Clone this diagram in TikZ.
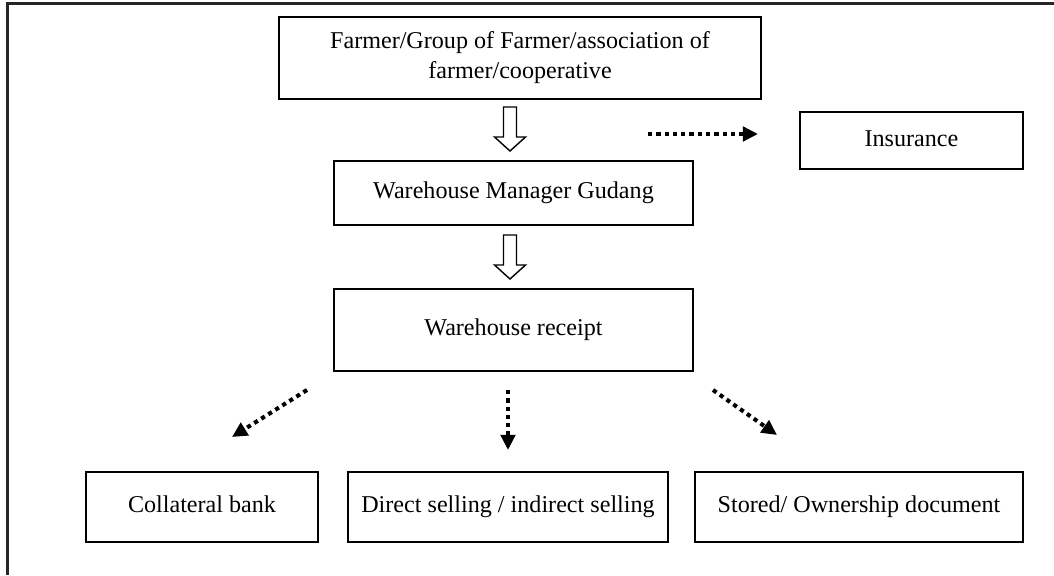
\documentclass[tikz,border=0pt]{standalone}
\usepackage{fontspec}
\setmainfont{Liberation Serif}
\usetikzlibrary{arrows.meta,calc}
\tikzset{box/.style={draw,line width=1.4pt,align=center,inner sep=2pt}}
\tikzset{onebox/.style={box,text height=12pt,text depth=4pt}}
\tikzset{frameline/.style={line width=1.6pt,black!85}}
\tikzset{dotarc/.style={line width=2.9pt,dash pattern=on 3pt off 2.9pt,-{Triangle[length=0.38cm,width=0.36cm]}}}
\tikzset{hollow/.style={draw,line width=1pt,fill=white,line join=miter}}
% hollow block arrow pointing down, centred on #1
\newcommand{\hollowdown}[1]{\draw[hollow] ($(#1)+(-6.5,22)$) -- ($(#1)+(6.5,22)$) -- ($(#1)+(6.5,-8)$) -- ($(#1)+(15.5,-8)$) -- ($(#1)+(0,-22)$) -- ($(#1)+(-15.5,-8)$) -- ($(#1)+(-6.5,-8)$) -- cycle;}
\begin{document}
\begin{tikzpicture}[x=0.025cm,y=0.025cm,font=\fontsize{17.15}{21.3}\selectfont]
\useasboundingbox (0,0) rectangle (1054,575);
\draw[frameline] (7.5,0) -- (7.5,571.5) -- (1054,571.5);
\node (farmer) at (520,517)[box,minimum width=12.05cm,minimum height=2.05cm]{Farmer/Group of Farmer/association of\\farmer/cooperative};
\node (wm) at (513.5,382)[onebox,minimum width=8.975cm,minimum height=1.6cm]{Warehouse Manager Gudang};
\node (receipt) at (513.5,245)[onebox,minimum width=8.975cm,minimum height=2.05cm]{Warehouse receipt};
\node (ins) at (911.5,434.5)[onebox,minimum width=5.575cm,minimum height=1.425cm]{Insurance};
\node (bank) at (202,68)[onebox,minimum width=5.8cm,minimum height=1.75cm]{Collateral bank};
\node (sell) at (508,68)[onebox,minimum width=8cm,minimum height=1.75cm]{Direct selling / indirect selling};
\node (stored) at (859,68)[onebox,minimum width=8.2cm,minimum height=1.75cm]{Stored/ Ownership document};
\coordinate (h1) at (510,446);
\coordinate (h2) at (510,318);
\hollowdown{h1}
\hollowdown{h2}
\coordinate (i0) at (648,441);
\coordinate (i1) at (758,441);
\draw[dotarc] (i0)--(i1);
\coordinate (l0) at (307,185);
\coordinate (l1) at (232,138);
\coordinate (m0) at (508,185);
\coordinate (m1) at (508,125);
\coordinate (r0) at (713,185);
\coordinate (r1) at (777,140);
\draw[dotarc] (l0)--(l1);
\draw[dotarc] (m0)--(m1);
\draw[dotarc] (r0)--(r1);
\end{tikzpicture}
\end{document}
